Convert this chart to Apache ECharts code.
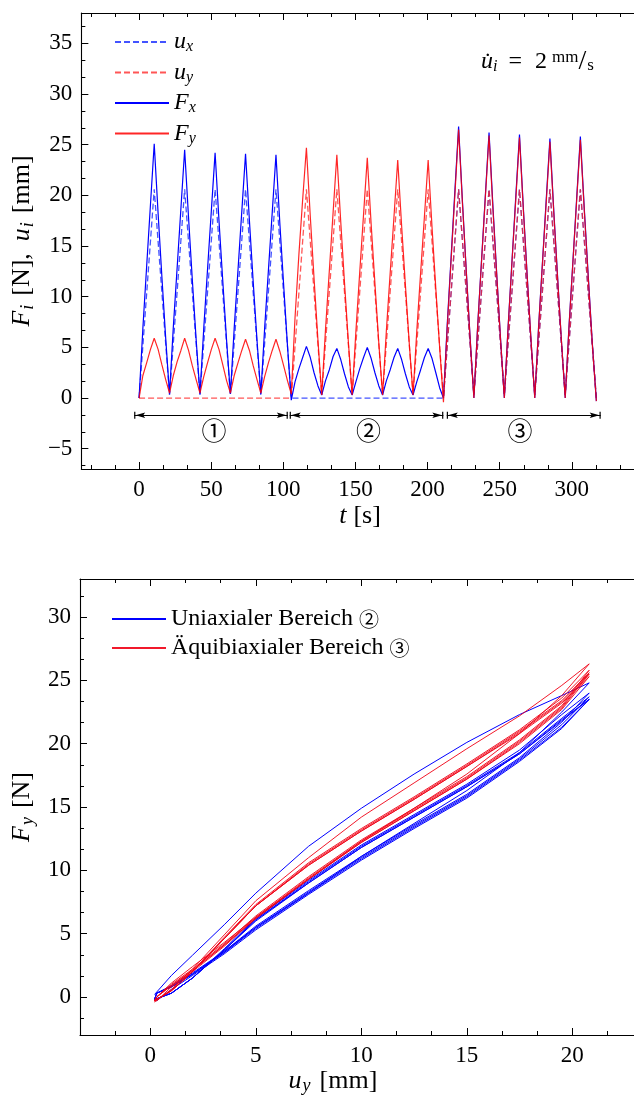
<!DOCTYPE html>
<html><head><meta charset="utf-8">
<script src="https://cdn.jsdelivr.net/npm/echarts@6.0.0/dist/echarts.min.js"></script>
<style>html,body{margin:0;padding:0;overflow:hidden;background:#fff}#c{width:720px;height:1097px}</style>
</head><body><div id="c"></div><script>
// ---------- top chart data ----------
const tForce = [
 0, 2.6, 5.3, 7.9, 10.5, 13.2, 15.8, 18.5, 21.1,
 23.7, 26.4, 29.0, 31.6, 34.3, 36.9, 39.6, 42.2,
 44.8, 47.5, 50.1, 52.7, 55.4, 58.0, 60.7, 63.3,
 65.9, 68.6, 71.2, 73.8, 76.5, 79.1, 81.8, 84.4,
 87.0, 89.7, 92.3, 94.9, 97.6, 100.2, 102.9, 105.5,
 108.1, 110.8, 113.4, 116.0, 118.7, 121.3, 124.0, 126.6,
 129.2, 131.9, 134.5, 137.1, 139.8, 142.4, 145.1, 147.7,
 150.3, 153.0, 155.6, 158.2, 160.9, 163.5, 166.2, 168.8,
 171.4, 174.1, 176.7, 179.3, 182.0, 184.6, 187.3, 189.9,
 192.5, 195.2, 197.8, 200.4, 203.1, 205.7, 208.4, 211.0,
 213.6, 216.3, 218.9, 221.5, 224.2, 226.8, 229.5, 232.1,
 234.7, 237.4, 240.0, 242.6, 245.3, 247.9, 250.6, 253.2,
 255.8, 258.5, 261.1, 263.7, 266.4, 269.0, 271.7, 274.3,
 276.9, 279.6, 282.2, 284.8, 287.5, 290.1, 292.8, 295.4,
 298.0, 300.7, 303.3, 305.9, 308.7, 311.4, 314.2, 317.0
];
const Fx = [
 0, 6.8, 13.1, 19.1, 25.1, 18.2, 12.0, 5.8, 0.4,
 6.9, 12.9, 18.7, 24.5, 17.8, 11.7, 5.7, 0.4,
 6.8, 12.8, 18.5, 24.2, 17.5, 11.6, 5.6, 0.4,
 6.8, 12.7, 18.4, 24.1, 17.5, 11.5, 5.6, 0.4,
 6.8, 12.7, 18.3, 24.0, 17.2, 11.2, 5.1, -0.2,
 1.6, 2.9, 4.0, 5.1, 4.0, 2.5, 1.2, 0.3,
 1.7, 2.8, 4.1, 4.9, 3.8, 2.4, 1.1, 0.3,
 1.6, 2.9, 4.0, 5.0, 3.9, 2.5, 1.2, 0.3,
 1.7, 2.8, 4.0, 4.9, 3.8, 2.4, 1.1, 0.3,
 1.6, 2.8, 4.0, 4.9, 3.9, 2.5, 1.0, 0.0,
 7.2, 13.9, 20.4, 26.8, 19.3, 12.6, 5.9, 0.0,
 7.1, 13.6, 19.9, 26.2, 18.9, 12.3, 5.8, 0.0,
 7.0, 13.5, 19.8, 26.0, 18.7, 12.2, 5.7, 0.0,
 6.9, 13.3, 19.5, 25.6, 18.4, 12.0, 5.6, 0.0,
 7.0, 13.4, 19.6, 25.8, 18.5, 12.0, 5.4, -0.3
];
const Fy = [
 0, 2.2, 3.5, 4.8, 5.9, 4.8, 3.3, 1.8, 0.5,
 2.2, 3.6, 4.7, 5.9, 4.7, 3.2, 1.8, 0.5,
 2.1, 3.5, 4.8, 5.9, 4.8, 3.3, 1.7, 0.5,
 2.2, 3.5, 4.7, 5.8, 4.7, 3.2, 1.8, 0.5,
 2.1, 3.5, 4.7, 5.8, 4.6, 3.2, 1.7, 0.4,
 7.9, 14.2, 19.6, 24.7, 17.9, 11.8, 5.7, 0.3,
 6.7, 12.6, 18.3, 24.0, 17.4, 11.4, 5.5, 0.3,
 6.6, 12.5, 18.1, 23.7, 17.1, 11.3, 5.4, 0.3,
 6.6, 12.4, 17.9, 23.5, 17.0, 11.2, 5.4, 0.3,
 6.6, 12.4, 17.9, 23.5, 16.8, 10.8, 4.9, -0.4,
 6.9, 13.6, 20.0, 26.5, 19.1, 12.5, 5.8, 0.0,
 7.0, 13.5, 19.7, 25.9, 18.6, 12.2, 5.7, 0.0,
 6.9, 13.4, 19.5, 25.7, 18.5, 12.1, 5.7, 0.0,
 6.8, 13.2, 19.2, 25.3, 18.2, 11.9, 5.6, 0.0,
 6.9, 13.3, 19.4, 25.5, 18.3, 11.8, 5.3, -0.3
];
const tDisp = [0, 10.5, 21.1, 31.6, 42.2, 52.7, 63.3, 73.8, 84.4, 94.9, 105.5,
 116.0, 126.6, 137.1, 147.7, 158.2, 168.8, 179.3, 189.9, 200.4, 211.0,
 221.5, 232.1, 242.6, 253.2, 263.7, 274.3, 284.8, 295.4, 305.9, 317.0];
const ux = [0, 20.6, 0.3, 20.6, 0.3, 20.6, 0.3, 20.6, 0.3, 20.6, 0,
 0, 0, 0, 0, 0, 0, 0, 0, 0, 0,
 20.6, 0.3, 20.6, 0.3, 20.6, 0.3, 20.6, 0.3, 20.6, 0];
const uy = [0, 0, 0, 0, 0, 0, 0, 0, 0, 0, 0,
 20.6, 0.3, 20.6, 0.3, 20.6, 0.3, 20.6, 0.3, 20.6, 0.0,
 20.6, 0.3, 20.6, 0.3, 20.6, 0.3, 20.6, 0.3, 20.6, 0];
const regionStart = [-3.4, 104.4, 213.3];
const regionEnd = [103.1, 210.9, 320.0];
const regionLabelX = [51.9, 159.1, 264.0];
const regionLabels = ['①', '②', '③'];
const xTicksTop = [0, 50, 100, 150, 200, 250, 300];
const yTicksTop = [-5, 0, 5, 10, 15, 20, 25, 30, 35];

// ---------- bottom chart data ----------
const loopU = [0.2, 1, 2, 3.5, 5, 7.5, 10, 12.5, 15, 17.5, 19.5, 20.8,
 19.5, 17.5, 15, 12.5, 10, 7.5, 5, 3.5, 2, 1, 0.3];
const uni1 = [0.2, 1.7, 3.3, 5.7, 8.2, 11.9, 14.9, 17.6, 20.1, 22.3, 23.8, 24.8,
 22.5, 19.3, 16.3, 13.7, 11.1, 8.2, 5.5, 3.6, 1.9, 0.9, 0.3];
const uni2 = [-0.2, 0.3, 1.5, 3.8, 6.2, 9.2, 12.0, 14.4, 16.8, 19.5, 22.3, 24.0,
 21.7, 18.9, 16.0, 13.6, 11.1, 8.4, 5.6, 3.6, 1.8, 0.8, 0.3];
const uni3 = [-0.2, 0.3, 1.5, 3.7, 6.1, 9.1, 11.9, 14.3, 16.7, 19.3, 22.0, 23.7,
 21.5, 18.8, 15.9, 13.5, 11.0, 8.3, 5.5, 3.5, 1.8, 0.8, 0.3];
const uni4 = [-0.2, 0.3, 1.5, 3.7, 6.1, 9.0, 11.8, 14.2, 16.6, 19.2, 21.9, 23.5,
 21.3, 18.7, 15.8, 13.4, 10.9, 8.2, 5.4, 3.5, 1.8, 0.8, 0.3];
const uni5 = [-0.2, 0.3, 1.5, 3.7, 6.0, 9.0, 11.8, 14.2, 16.6, 19.2, 21.8, 23.5,
 21.2, 18.6, 15.7, 13.3, 10.8, 8.1, 5.3, 3.4, 1.7, 0.6, -0.3];
const bi1 = [-0.4, 0.6, 2.2, 4.9, 7.6, 11.0, 14.2, 16.9, 19.6, 22.2, 24.6, 26.3,
 23.8, 20.8, 17.6, 14.9, 12.3, 9.3, 6.3, 4.3, 2.4, 1.1, 0.0];
const bi2 = [-0.3, 0.5, 2.0, 4.7, 7.3, 10.6, 13.3, 15.8, 18.4, 21.1, 23.6, 25.8,
 23.0, 20.3, 17.4, 14.9, 12.4, 9.5, 6.4, 4.2, 2.2, 1.0, 0.0];
const bi3 = [-0.3, 0.5, 2.0, 4.6, 7.2, 10.5, 13.2, 15.7, 18.3, 21.0, 23.4, 25.6,
 22.9, 20.2, 17.3, 14.8, 12.3, 9.4, 6.3, 4.1, 2.1, 0.9, 0.0];
const bi4 = [-0.3, 0.5, 2.0, 4.6, 7.2, 10.4, 13.1, 15.6, 18.2, 20.8, 23.2, 25.3,
 22.7, 20.0, 17.2, 14.7, 12.2, 9.3, 6.2, 4.1, 2.1, 0.9, 0.0];
const bi5 = [-0.3, 0.5, 2.0, 4.6, 7.2, 10.4, 13.1, 15.6, 18.2, 20.9, 23.3, 25.5,
 22.8, 20.1, 17.2, 14.7, 12.2, 9.3, 6.2, 4.0, 2.0, 0.8, -0.3];
const xTicksBot = [0, 5, 10, 15, 20];
const yTicksBot = [0, 5, 10, 15, 20, 25, 30];

// ---------- styling ----------
const SERIF = "'Liberation Serif', 'DejaVu Serif', serif";
const CIRC = "'Noto Sans CJK SC', 'DejaVu Sans', sans-serif";
const RICH = {
  it: {fontFamily: SERIF, fontStyle: 'italic', fontSize: 24, lineHeight: 20, color: '#000'},
  rm: {fontFamily: SERIF, fontSize: 24, lineHeight: 20, color: '#000'},
  sub: {fontFamily: SERIF, fontStyle: 'italic', fontSize: 16, lineHeight: 20, padding: [10, 0, 0, 0], color: '#000'},
  c: {fontFamily: CIRC, fontSize: 20, lineHeight: 20, color: '#000'}
};
const RICH_T = {
  it: {fontFamily: SERIF, fontStyle: 'italic', fontSize: 26, lineHeight: 22, color: '#000'},
  rm: {fontFamily: SERIF, fontSize: 26, lineHeight: 22, color: '#000', padding: [0, 0, 0, 9]},
  rm2: {fontFamily: SERIF, fontSize: 26, lineHeight: 22, color: '#000', padding: [0, 12, 0, 9]},
  sub: {fontFamily: SERIF, fontStyle: 'italic', fontSize: 18, lineHeight: 22, padding: [11, 0, 0, 1], color: '#000'}
};
function minorOf(min, max, step, major) {
  const out = [];
  for (let k = Math.ceil(min / step); k * step <= max; k++) {
    const v = k * step;
    if (Math.abs(v / major - Math.round(v / major)) > 1e-6) out.push(+v.toFixed(4));
  }
  return out;
}
const fmt = v => (v < 0 ? '\u2212' + Math.abs(v) : String(v));
function axis(dim, grid, min, max, pos, ticks, len, labels, line) {
  return {
    type: 'value', gridIndex: grid, min, max, position: pos,
    axisLine: {show: line, onZero: false, lineStyle: {color: '#000', width: 1.1}},
    axisTick: {show: true, inside: true, length: len, customValues: ticks, lineStyle: {color: '#000', width: 1}},
    axisLabel: labels ? {show: true, customValues: ticks, margin: 9, fontFamily: SERIF, fontSize: 23, color: '#000', formatter: fmt} : {show: false},
    splitLine: {show: false}, axisPointer: {show: false}
  };
}
const X0 = [-40, 360], Y0 = [-7, 38], X1 = [-10 / 3, 25], Y1 = [-3, 33];
const xAxes = [
  axis('x', 0, X0[0], X0[1], 'bottom', xTicksTop, 7, true, true),
  axis('x', 0, X0[0], X0[1], 'bottom', minorOf(X0[0], X0[1], 50 / 3, 50), 4, false, false),
  axis('x', 0, X0[0], X0[1], 'top', xTicksTop, 7, false, true),
  axis('x', 0, X0[0], X0[1], 'top', minorOf(X0[0], X0[1], 50 / 3, 50), 4, false, false),
  axis('x', 1, X1[0], X1[1], 'bottom', xTicksBot, 7, true, true),
  axis('x', 1, X1[0], X1[1], 'bottom', minorOf(X1[0], X1[1], 5 / 3, 5), 4, false, false),
  axis('x', 1, X1[0], X1[1], 'top', xTicksBot, 7, false, true),
  axis('x', 1, X1[0], X1[1], 'top', minorOf(X1[0], X1[1], 5 / 3, 5), 4, false, false)
];
const yAxes = [
  axis('y', 0, Y0[0], Y0[1], 'left', yTicksTop, 7, true, true),
  axis('y', 0, Y0[0], Y0[1], 'left', minorOf(Y0[0], Y0[1], 5 / 3, 5), 4, false, false),
  axis('y', 1, Y1[0], Y1[1], 'left', yTicksBot, 7, true, true),
  axis('y', 1, Y1[0], Y1[1], 'left', minorOf(Y1[0], Y1[1], 5 / 3, 5), 4, false, false)
];
yAxes[0].name = '{it|F}{sub|i}{rm2|[N],}{it|u}{sub|i}{rm|[mm]}';
yAxes[2].name = '{it|F}{sub|y}{rm|[N]}';
[0, 2].forEach(i => Object.assign(yAxes[i], {nameLocation: 'middle', nameRotate: 90, nameGap: 36, nameTextStyle: {rich: RICH_T, fontFamily: SERIF, fontSize: 26}}));

const pair = (xs, ys) => xs.map((x, i) => [x, ys[i]]);
const lineS = (name, data, color, dashed, w, xi, yi) => ({
  name, type: 'line', data, xAxisIndex: xi, yAxisIndex: yi, symbol: 'none', showSymbol: false,
  lineStyle: {color, width: w, type: dashed ? [6, 3] : 'solid'}, itemStyle: {color},
  emphasis: {disabled: true}, silent: true, clip: true
});
const ARROW = 'path://M-3.5,0L3.5,0L3.5,1.2L-3.5,1.2Z M0,1.2L2.75,11L0,9L-2.75,11Z M0,-11L0.01,-11L0,-10.99Z';
const annot = {
  type: 'line', data: [], xAxisIndex: 0, yAxisIndex: 0, silent: true, symbol: 'none',
  markLine: {
    silent: true, symbol: [ARROW, ARROW], symbolSize: [7, 22], animation: false,
    lineStyle: {color: '#000', width: 1.2, type: 'solid'}, label: {show: false}, emphasis: {disabled: true},
    data: regionStart.map((s, i) => [{coord: [s, -1.7]}, {coord: [regionEnd[i], -1.7]}])
  },
  markPoint: {
    silent: true, symbol: 'circle', symbolSize: 1, itemStyle: {color: 'rgba(0,0,0,0)'},
    label: {show: true, position: 'inside', formatter: p => p.name, fontFamily: CIRC, fontSize: 25, color: '#000'},
    data: regionLabels.map((l, i) => ({name: l, coord: [regionLabelX[i], -3.2]}))
  }
};
const blueData = [uni1, uni2, uni3, uni4, uni5].flatMap(L => pair(loopU, L));
const redData = [bi1, bi2, bi3, bi4, bi5].flatMap(L => pair(loopU, L));
const legTop = {ux: '{it|u}{sub|x}', uy: '{it|u}{sub|y}', Fx: '{it|F}{sub|x}', Fy: '{it|F}{sub|y}'};
const legBot = {'Uniaxialer Bereich ②': '{rm|Uniaxialer Bereich }{c|②}', 'Äquibiaxialer Bereich ③': '{rm|Äquibiaxialer Bereich }{c|③}'};
const noSym = n => ({name: n, itemStyle: {opacity: 0}});

const chart = echarts.init(document.getElementById('c'), null, {renderer: 'canvas'});
chart.setOption({
  animation: false, backgroundColor: '#fff',
  textStyle: {fontFamily: SERIF},
  grid: [
    {left: 80, top: 13, width: 400 * 1.446, height: 456},
    {left: 80, top: 579, width: (25 + 10 / 3) * 21.1, height: 456}
  ],
  xAxis: xAxes, yAxis: yAxes,
  legend: [
    {orient: 'vertical', left: 114, top: 29, padding: 0, itemWidth: 54, itemHeight: 12, itemGap: 4.5, selectedMode: false,
     itemStyle: {opacity: 0},
     data: ['ux', 'uy', 'Fx', 'Fy'].map(noSym), formatter: n => legTop[n], textStyle: {fontSize: 24, rich: RICH}},
    {orient: 'vertical', left: 111, top: 607, padding: 0, itemWidth: 54, itemHeight: 12, itemGap: 5, selectedMode: false,
     itemStyle: {opacity: 0},
     data: ['Uniaxialer Bereich ②', 'Äquibiaxialer Bereich ③'].map(noSym), formatter: n => legBot[n], textStyle: {fontSize: 24, rich: RICH}}
  ],
  graphic: [
    {type: 'text', x: 360, y: 516, style: {text: '{it|t}{rm|[s]}', align: 'center', verticalAlign: 'middle', rich: Object.assign({}, RICH_T, {rm: Object.assign({}, RICH_T.rm, {padding: [0, 0, 0, 7]})})}},
    {type: 'text', x: 333, y: 1081, style: {text: '{it|u}{sub|y}{rm|[mm]}', align: 'center', verticalAlign: 'middle', rich: RICH_T}},
    {type: 'text', x: 481, y: 62, style: {
      text: '{it|u\u0307}{sub|i}{eq|=}{rm|2}{sup|mm}{sl|/}{sb|s}', align: 'left', verticalAlign: 'middle',
      rich: Object.assign({}, RICH, {
        eq: {fontFamily: SERIF, fontSize: 24, lineHeight: 20, padding: [0, 13, 0, 11], color: '#000'},
        sup: {fontFamily: SERIF, fontSize: 17, lineHeight: 20, padding: [0, 0, 8, 5], color: '#000'},
        sl: {fontFamily: SERIF, fontSize: 28, lineHeight: 20, padding: [0, 1, 0, 0], color: '#000'},
        sb: {fontFamily: SERIF, fontSize: 17, lineHeight: 20, padding: [7, 0, 0, 0], color: '#000'}
      })}}
  ],
  series: [
    lineS('ux', pair(tDisp, ux), 'rgba(20,40,255,0.8)', true, 1.3, 0, 0),
    lineS('uy', pair(tDisp, uy), 'rgba(255,30,30,0.75)', true, 1.3, 0, 0),
    lineS('Fx', pair(tForce, Fx), '#0000ff', false, 1.2, 0, 0),
    lineS('Fy', pair(tForce, Fy), 'rgba(255,0,0,0.85)', false, 1.2, 0, 0),
    annot,
    lineS('Uniaxialer Bereich ②', blueData, '#0000ff', false, 1, 4, 2),
    lineS('Äquibiaxialer Bereich ③', redData, 'rgba(240,0,20,0.9)', false, 1, 4, 2)
  ]
});
</script></body></html>
